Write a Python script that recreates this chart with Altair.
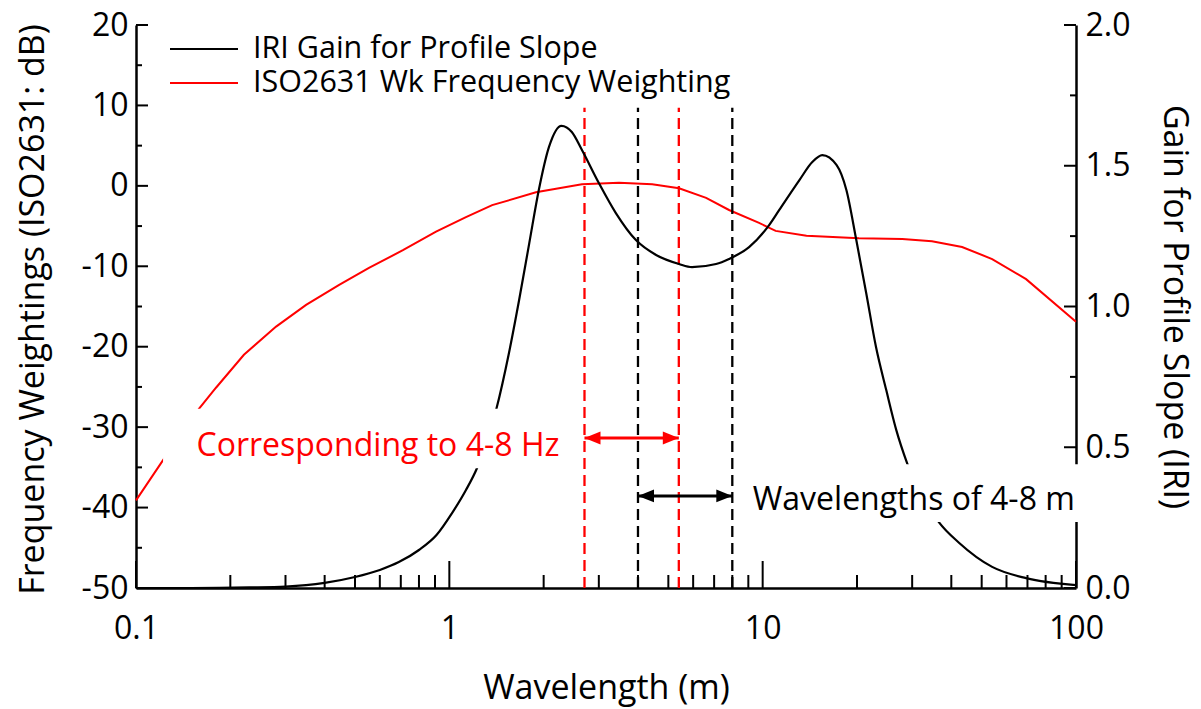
import altair as alt
import pandas as pd

# ---------------- series ----------------
# ISO 2631 Wk frequency weighting expressed along road wavelength (m), in dB
wk_wavelength = [0.1, 0.122, 0.159, 0.180, 0.221, 0.280, 0.349, 0.445, 0.554, 0.711,
                 0.907, 1.13, 1.37, 1.89, 2.65, 3.48, 4.44, 5.41, 6.6, 7.81,
                 9.74, 11.0, 13.8, 20.3, 27.9, 34.7, 43.3, 54.0, 69.3, 100]
wk_db = [-39.1, -34.1, -27.7, -25.1, -21.0, -17.5, -14.8, -12.3, -10.2, -8.0,
         -5.7, -3.9, -2.4, -0.8, 0.2, 0.4, 0.2, -0.3, -1.5, -3.0,
         -4.6, -5.6, -6.2, -6.5, -6.6, -6.9, -7.6, -9.1, -11.6, -16.9]

# IRI quarter-car gain for profile slope
iri_wavelength = [0.1, 0.15, 0.23, 0.30, 0.40, 0.50, 0.60, 0.69, 0.80, 0.91,
                  1.02, 1.13, 1.23, 1.41, 1.55, 1.67, 1.80, 1.93, 2.08, 2.28,
                  2.46, 2.65, 3.0, 3.4, 3.94, 4.57, 5.41, 5.95, 7.1, 7.81,
                  9.05, 10.5, 11.3, 13.1, 14.4, 15.5, 17.2, 18.5, 19.9, 21.4,
                  23.0, 24.8, 26.7, 28.9, 36.5, 42.4, 54, 69.3, 100]
iri_gain = [0.0, 0.0, 0.002, 0.005, 0.018, 0.039, 0.064, 0.092, 0.135, 0.188,
            0.266, 0.348, 0.43, 0.632, 0.835, 1.023, 1.226, 1.414, 1.567, 1.642,
            1.62, 1.556, 1.439, 1.332, 1.236, 1.183, 1.151, 1.14, 1.151, 1.169,
            1.211, 1.29, 1.343, 1.449, 1.513, 1.538, 1.503, 1.414, 1.236, 1.048,
            0.856, 0.703, 0.561, 0.444, 0.234, 0.16, 0.075, 0.035, 0.01]

# ---------------- axis ticks ----------------
x_major = [0.1, 1, 10, 100]
x_minor = [0.2, 0.3, 0.4, 0.5, 0.6, 0.7, 0.8, 0.9,
           2, 3, 4, 5, 6, 7, 8, 9,
           20, 30, 40, 50, 60, 70, 80, 90]
left_major = [-50, -40, -30, -20, -10, 0, 10, 20]
left_minor = [-45, -35, -25, -15, -5, 5, 15]
right_major = [0.0, 0.5, 1.0, 1.5, 2.0]
right_minor = [0.25, 0.75, 1.25, 1.75]

# ---------------- bands ----------------
hz_band = [2.7, 5.4]   # wavelengths corresponding to 4-8 Hz
m_band = [4, 8]        # wavelengths of 4-8 m

legend_labels = ["IRI Gain for Profile Slope", "ISO2631 Wk Frequency Weighting"]
legend_colors = ["black", "#ff0000"]

W, H = 940, 563
FONT = "Open Sans"
RED = "#ff0000"

x_scale = alt.Scale(type="log", domain=[0.1, 100], nice=False)
left_scale = alt.Scale(domain=[-50, 20], nice=False, zero=False)
right_scale = alt.Scale(domain=[0, 2], nice=False, zero=False)

# Every layer sharing a scale carries the same axis definition, so the merged
# axis stays enabled (an axis=None on one layer would switch the shared one off).
x_axis = alt.Axis(orient="bottom", values=x_major, format="~g", title="Wavelength (m)",
                  ticks=False, grid=False, domainWidth=2.5, domainColor="black",
                  labelFontSize=32, labelPadding=25, labelFlush=False, labelOverlap=False,
                  titleX=W / 2, titleY=100, titleBaseline="middle", titleAlign="center")
left_axis = alt.Axis(orient="left", values=left_major, labelExpr="datum.value + ''",
                     title="Frequency Weightings (ISO2631: dB)",
                     ticks=False, grid=False, domainWidth=2.5, domainColor="black",
                     labelFontSize=32, labelPadding=8, labelFlush=False, labelOverlap=False,
                     titleAngle=270, titleX=-103, titleY=284, titleBaseline="middle",
                     titleAlign="center")
right_axis = alt.Axis(orient="right", values=right_major, format=".1f",
                      title="Gain for Profile Slope (IRI)",
                      ticks=False, grid=False, domainWidth=2.5, domainColor="black",
                      labelFontSize=32, labelPadding=9, labelFlush=False, labelOverlap=False,
                      titleAngle=90, titleX=97, titleY=H / 2, titleBaseline="middle",
                      titleAlign="center")


def X(field):
    return alt.X(field, scale=x_scale, axis=x_axis)


one = pd.DataFrame({"_": [0]})


def x_ticks(values, length, y_enc):
    return alt.Chart(pd.DataFrame({"v": values, "lo": -50})).mark_rule(
        color="black", strokeWidth=2).encode(
        x=X("v:Q"), y=y_enc, y2=alt.value(H - length))


def y_ticks(values, scale, axis, x0, x1):
    return alt.Chart(pd.DataFrame({"v": values})).mark_rule(color="black", strokeWidth=2).encode(
        y=alt.Y("v:Q", scale=scale, axis=axis),
        x=alt.value(x0), x2=alt.value(x1))


# ---------------- left scale: Wk weighting, x axis, left axis ----------------
wk_df = pd.DataFrame({"wavelength": wk_wavelength, "db": wk_db})
wk_line = alt.Chart(wk_df).mark_line(color=RED, strokeWidth=2).encode(
    x=X("wavelength:Q"),
    y=alt.Y("db:Q", scale=left_scale, axis=left_axis),
)


def band_lines(values, color):
    return alt.Chart(pd.DataFrame({"w": values, "lo": -50, "hi": 9.7})).mark_rule(
        color=color, strokeWidth=2.3, strokeDash=[11, 6]).encode(
        x=X("w:Q"),
        y=alt.Y("lo:Q", scale=left_scale, axis=left_axis), y2="hi:Q")


left_y_base = alt.Y("lo:Q", scale=left_scale, axis=left_axis)
left_group = alt.layer(
    wk_line,
    x_ticks(x_major, 27, left_y_base),
    x_ticks(x_minor, 13, left_y_base),
    y_ticks(left_major, left_scale, left_axis, 0, 12),
    y_ticks(left_minor, left_scale, left_axis, 0, 6),
    band_lines(hz_band, RED),
    band_lines(m_band, "black"),
)

# ---------------- right scale: IRI gain, right axis ----------------
iri_df = pd.DataFrame({"wavelength": iri_wavelength, "gain": iri_gain})
iri_line = alt.Chart(iri_df).mark_line(color="black", strokeWidth=2.2, interpolate="monotone").encode(
    x=X("wavelength:Q"),
    y=alt.Y("gain:Q", scale=right_scale, axis=right_axis),
)
right_group = alt.layer(
    iri_line,
    y_ticks(right_major, right_scale, right_axis, W, W - 12),
    y_ticks(right_minor, right_scale, right_axis, W, W - 6),
)

# ---------------- overlay (same dB mapping, no y axis): boxes, arrows, notes, legend ----------------
LEFT_HEAD = "M0,0L2,-0.8L2,0.8Z"
RIGHT_HEAD = "M0,0L-2,-0.8L-2,0.8Z"


def arrow(values, color, level):
    df = pd.DataFrame({"a": [values[0]], "b": [values[1]], "lvl": [level]})
    base = alt.Chart(df)
    y_enc = alt.Y("lvl:Q", scale=left_scale, axis=None)
    shaft = base.mark_rule(color=color, strokeWidth=3).encode(
        x=X("a:Q"), x2="b:Q", y=y_enc)
    head_l = base.mark_point(shape=LEFT_HEAD, size=256, filled=True, color=color,
                             opacity=1, strokeWidth=0).encode(x=X("a:Q"), y=y_enc)
    head_r = base.mark_point(shape=RIGHT_HEAD, size=256, filled=True, color=color,
                             opacity=1, strokeWidth=0).encode(x=X("b:Q"), y=y_enc)
    return alt.layer(shaft, head_l, head_r)


def white_box(x0, x1, y0, y1):
    df = pd.DataFrame({"x0": [x0], "x1": [x1], "y0": [y0], "y1": [y1]})
    return alt.Chart(df).mark_rect(color="white", opacity=1).encode(
        x=X("x0:Q"), x2="x1:Q",
        y=alt.Y("y0:Q", scale=left_scale, axis=None), y2="y1:Q")


def note(text, x, y, color):
    df = pd.DataFrame({"x": [x], "y": [y], "t": [text]})
    return alt.Chart(df).mark_text(align="left", baseline="middle", font=FONT,
                                   fontSize=32, color=color).encode(
        x=X("x:Q"),
        y=alt.Y("y:Q", scale=left_scale, axis=None),
        text="t:N")


def legend_row(label, color, y):
    line = alt.Chart(one).mark_rule(color=color, strokeWidth=2.2).encode(
        x=alt.value(34), x2=alt.value(102), y=alt.value(y))
    txt = alt.Chart(one).mark_text(align="left", baseline="middle", font=FONT,
                                   fontSize=30.5, color="black").encode(
        x=alt.value(117), y=alt.value(y), text=alt.value(label))
    return alt.layer(line, txt)


overlay_group = alt.layer(
    white_box(0.122, 2.46, -27.7, -35.1),
    white_box(8.8, 115, -34.6, -41.8),
    arrow(hz_band, RED, -31.35),
    arrow(m_band, "black", -38.55),
    note("Corresponding to 4-8 Hz", 0.156, -32.3, RED),
    note("Wavelengths of 4-8 m", 9.3, -39.1, "black"),
    legend_row(legend_labels[0], legend_colors[0], 24),
    legend_row(legend_labels[1], legend_colors[1], 58),
)

chart = alt.layer(left_group, right_group, overlay_group).resolve_scale(
    y="independent"
).properties(
    width=W, height=H, background="white",
    padding={"left": 136, "top": 25, "right": 125, "bottom": 121},
    autosize=alt.AutoSizeParams(type="none"),
).configure_view(strokeWidth=0).configure_axis(
    labelFont=FONT, titleFont=FONT, labelColor="black", titleColor="black",
    titleFontSize=34, titleFontWeight="normal",
)

chart.save("out.html", embed_options={"renderer": "svg", "actions": False})
